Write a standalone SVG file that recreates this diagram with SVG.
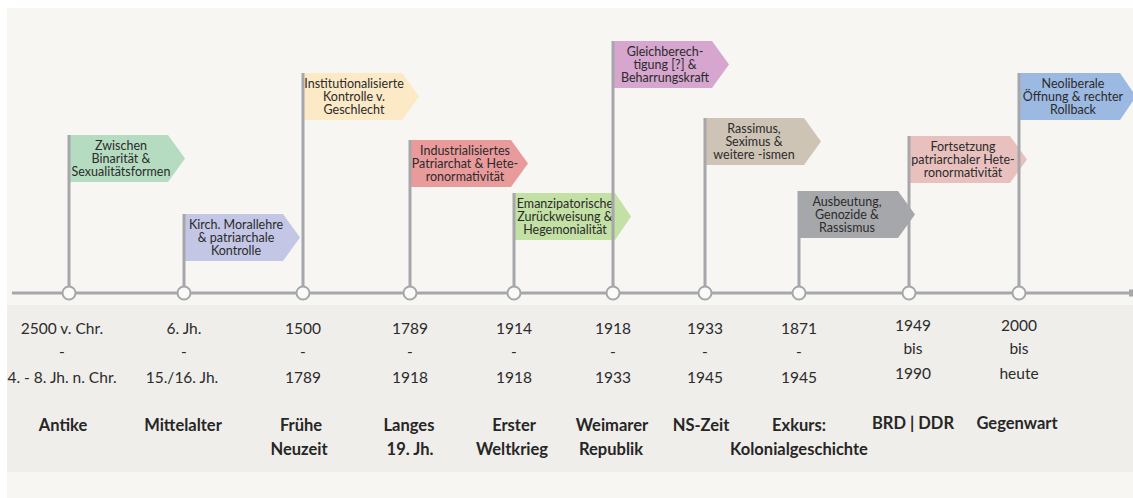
<svg xmlns="http://www.w3.org/2000/svg" width="1133" height="498" viewBox="0 0 1133 498">
<defs>
<style>
.bg{fill:#f7f6f2}
.band{fill:#efeeea}
.pole{stroke:#a6a7aa;stroke-width:3}
.axis{stroke:#a6a7aa;stroke-width:3;fill:none}
.dot{fill:#fafaf8;stroke:#a6a7aa;stroke-width:2}
.ft{font-family:Lato,"Open Sans",sans-serif;font-size:12.5px;fill:#2b2b2b;text-anchor:middle}
.yr{font-family:Lato,"Open Sans",sans-serif;font-size:15.5px;fill:#2b2b2b;text-anchor:middle}
.ep{font-family:Lato,"Open Sans",sans-serif;font-size:16.5px;font-weight:bold;fill:#262626;text-anchor:middle}
</style>
</defs>
<rect x="7" y="8" width="1126" height="490" class="bg"/>
<rect x="7" y="305" width="1126" height="167" class="band"/>

<g id="connectors">
<line class="axis" x1="12" y1="293" x2="1131" y2="293"/>
<rect x="1129" y="289.5" width="4" height="7" fill="#a6a7aa"/>
</g>

<g id="antike">
<path d="M69,135 H168 L185,158.5 L168,182 H69 Z" fill="#b5dcc1"/>
<line class="pole" x1="69" y1="135" x2="69" y2="293"/>
<circle class="dot" cx="69" cy="293" r="6.5"/>
<text class="ft" x="121" y="149.5">Zwischen</text>
<text class="ft" x="121" y="163">Binarität &amp;</text>
<text class="ft" x="121" y="176">Sexualitätsformen</text>
<text class="yr" x="62" y="334">2500 v. Chr.</text>
<text class="yr" x="62" y="357">-</text>
<text class="yr" x="62" y="383">4. - 8. Jh. n. Chr.</text>
<text class="ep" x="63" y="431">Antike</text>
</g>

<g id="mittelalter">
<path d="M184,214 H283 L300,237.5 L283,261 H184 Z" fill="#c3c6e5"/>
<line class="pole" x1="184" y1="214" x2="184" y2="293"/>
<circle class="dot" cx="184" cy="293" r="6.5"/>
<text class="ft" x="236" y="228.5">Kirch. Morallehre</text>
<text class="ft" x="236" y="242">&amp; patriarchale</text>
<text class="ft" x="236" y="255">Kontrolle</text>
<text class="yr" x="184" y="334">6. Jh.</text>
<text class="yr" x="184" y="357">-</text>
<text class="yr" x="182" y="383">15./16. Jh.</text>
<text class="ep" x="183" y="431">Mittelalter</text>
</g>

<g id="fruehe-neuzeit">
<path d="M303,73 H402 L419,96.5 L402,120 H303 Z" fill="#fce9c6"/>
<line class="pole" x1="303" y1="73" x2="303" y2="293"/>
<circle class="dot" cx="303" cy="293" r="6.5"/>
<text class="ft" x="354" y="87.5">Institutionalisierte</text>
<text class="ft" x="354" y="101">Kontrolle v.</text>
<text class="ft" x="354" y="114">Geschlecht</text>
<text class="yr" x="303" y="334">1500</text>
<text class="yr" x="303" y="357">-</text>
<text class="yr" x="303" y="383">1789</text>
<text class="ep" x="301" y="431">Frühe</text>
<text class="ep" x="299" y="455">Neuzeit</text>
</g>

<g id="langes-19-jh">
<path d="M410,140 H511 L528,163.5 L511,187 H410 Z" fill="#e99b9c"/>
<line class="pole" x1="410" y1="140" x2="410" y2="293"/>
<circle class="dot" cx="410" cy="293" r="6.5"/>
<text class="ft" x="465" y="154.5">Industrialisiertes</text>
<text class="ft" x="465" y="168">Patriarchat &amp; Hete-</text>
<text class="ft" x="465" y="181">ronormativität</text>
<text class="yr" x="410" y="334">1789</text>
<text class="yr" x="410" y="357">-</text>
<text class="yr" x="410" y="383">1918</text>
<text class="ep" x="409" y="431">Langes</text>
<text class="ep" x="410" y="455">19. Jh.</text>
</g>

<g id="erster-weltkrieg">
<path d="M514,193 H615 L631,216.5 L615,240 H514 Z" fill="#c3e0a5"/>
<line class="pole" x1="514" y1="193" x2="514" y2="293"/>
<circle class="dot" cx="514" cy="293" r="6.5"/>
<text class="ft" x="565" y="207.5">Emanzipatorische</text>
<text class="ft" x="565" y="221">Zurückweisung &amp;</text>
<text class="ft" x="565" y="234">Hegemonialität</text>
<text class="yr" x="514" y="334">1914</text>
<text class="yr" x="514" y="357">-</text>
<text class="yr" x="514" y="383">1918</text>
<text class="ep" x="514" y="431">Erster</text>
<text class="ep" x="512" y="455">Weltkrieg</text>
</g>

<g id="weimarer-republik">
<path d="M613,41 H712 L729,64.5 L712,88 H613 Z" fill="#d6a6cf"/>
<line class="pole" x1="613" y1="41" x2="613" y2="293"/>
<circle class="dot" cx="613" cy="293" r="6.5"/>
<text class="ft" x="665" y="55.5">Gleichberech-</text>
<text class="ft" x="665" y="69">tigung [?] &amp;</text>
<text class="ft" x="665" y="82">Beharrungskraft</text>
<text class="yr" x="613" y="334">1918</text>
<text class="yr" x="613" y="357">-</text>
<text class="yr" x="613" y="383">1933</text>
<text class="ep" x="612" y="431">Weimarer</text>
<text class="ep" x="611" y="455">Republik</text>
</g>

<g id="ns-zeit">
<path d="M705,118 H804 L821,141.5 L804,165 H705 Z" fill="#cec4b6"/>
<line class="pole" x1="705" y1="118" x2="705" y2="293"/>
<circle class="dot" cx="705" cy="293" r="6.5"/>
<text class="ft" x="754" y="132.5">Rassimus,</text>
<text class="ft" x="754" y="146">Seximus &amp;</text>
<text class="ft" x="754" y="159">weitere -ismen</text>
<text class="yr" x="705" y="334">1933</text>
<text class="yr" x="705" y="357">-</text>
<text class="yr" x="705" y="383">1945</text>
<text class="ep" x="701" y="431">NS-Zeit</text>
</g>

<g id="kolonialgeschichte">
<path d="M799,191 H898 L915,214.5 L898,238 H799 Z" fill="#a6a7aa"/>
<line class="pole" x1="799" y1="191" x2="799" y2="293"/>
<circle class="dot" cx="799" cy="293" r="6.5"/>
<text class="ft" x="847" y="205.5">Ausbeutung,</text>
<text class="ft" x="847" y="219">Genozide &amp;</text>
<text class="ft" x="847" y="232">Rassismus</text>
<text class="yr" x="799" y="334">1871</text>
<text class="yr" x="799" y="357">-</text>
<text class="yr" x="799" y="383">1945</text>
<text class="ep" x="799" y="431">Exkurs:</text>
<text class="ep" x="799" y="455">Kolonialgeschichte</text>
</g>

<g id="brd-ddr">
<path d="M909,136 H1010 L1027,159.5 L1010,183 H909 Z" fill="#e8c1be"/>
<line class="pole" x1="909" y1="136" x2="909" y2="293"/>
<circle class="dot" cx="909" cy="293" r="6.5"/>
<text class="ft" x="963" y="150.5">Fortsetzung</text>
<text class="ft" x="963" y="164">patriarchaler Hete-</text>
<text class="ft" x="963" y="177">ronormativität</text>
<text class="yr" x="913" y="331">1949</text>
<text class="yr" x="913" y="354">bis</text>
<text class="yr" x="913" y="379">1990</text>
<text class="ep" x="913" y="429">BRD | DDR</text>
</g>

<g id="gegenwart">
<path d="M1019,73 H1120 L1136,96.5 L1120,120 H1019 Z" fill="#9cb9e1"/>
<line class="pole" x1="1019" y1="73" x2="1019" y2="293"/>
<circle class="dot" cx="1019" cy="293" r="6.5"/>
<text class="ft" x="1073" y="87.5">Neoliberale</text>
<text class="ft" x="1073" y="101">Öffnung &amp; rechter</text>
<text class="ft" x="1073" y="114">Rollback</text>
<text class="yr" x="1019" y="331">2000</text>
<text class="yr" x="1019" y="354">bis</text>
<text class="yr" x="1019" y="379">heute</text>
<text class="ep" x="1017" y="429">Gegenwart</text>
</g>
</svg>
